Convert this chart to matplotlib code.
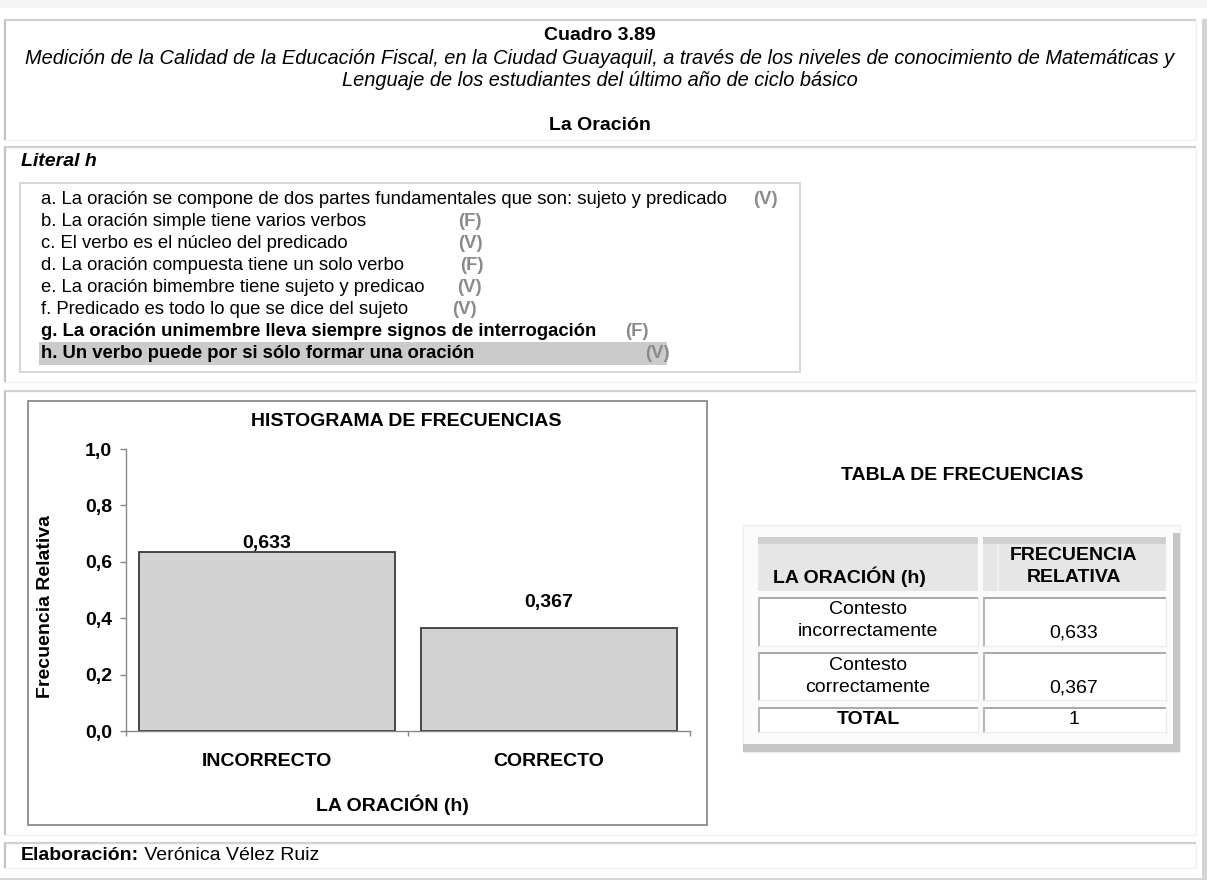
import matplotlib
matplotlib.use("Agg")
import matplotlib.pyplot as plt
from matplotlib.patches import Rectangle

plt.rcParams['font.family'] = ['Liberation Sans', 'DejaVu Sans']

# ---------------- data ----------------
cuadro = "Cuadro 3.89"
subtitle_lines = [
    "Medición de la Calidad de la Educación Fiscal, en la Ciudad Guayaquil, a través de los niveles de conocimiento de Matemáticas y",
    "Lenguaje de los estudiantes del último año de ciclo básico",
]
section = "La Oración"
literal = "Literal h"
statements = [
    "a. La oración se compone de dos partes fundamentales que son: sujeto y predicado",
    "b. La oración simple tiene varios verbos",
    "c. El verbo es el núcleo del predicado",
    "d. La oración compuesta tiene un solo verbo",
    "e. La oración bimembre tiene sujeto y predicao",
    "f. Predicado es todo lo que se dice del sujeto",
    "g. La oración unimembre lleva siempre signos de interrogación",
    "h. Un verbo puede por si sólo formar una oración",
]
answers = ["(V)", "(F)", "(V)", "(F)", "(V)", "(V)", "(F)", "(V)"]
bold_items = [False, False, False, False, False, False, True, True]

chart_title = "HISTOGRAMA DE FRECUENCIAS"
categories = ["INCORRECTO", "CORRECTO"]
freq = [0.633, 0.367]
y_ticks = [0.0, 0.2, 0.4, 0.6, 0.8, 1.0]
y_label = "Frecuencia Relativa"
x_label = "LA ORACIÓN (h)"

table_title = "TABLA DE FRECUENCIAS"
table_header = ["LA ORACIÓN (h)", ["FRECUENCIA", "RELATIVA"]]
table_rows = [["Contesto", "incorrectamente"], ["Contesto", "correctamente"]]
table_values = ["0,633", "0,367"]
table_total_label = "TOTAL"
table_total = "1"

author_label = "Elaboración:"
author = " Verónica Vélez Ruiz"

# ---------------- layout ----------------
W, H = 1207, 880
fig = plt.figure(figsize=(W / 100, H / 100), dpi=100)
ov = fig.add_axes([0, 0, 1, 1])
ov.set_xlim(0, W)
ov.set_ylim(H, 0)
ov.axis('off')

FS = 14
FS_SUB = 14.4
FS_LIST = 13.3


def rect(x0, y0, x1, y1, **kw):
    ov.add_patch(Rectangle((x0, y0), x1 - x0, y1 - y0, **kw))


def hline(y, x0, x1, color, lw=1.4):
    ov.plot([x0, x1], [y, y], color=color, lw=lw, solid_capstyle='butt')


def vline(x, y0, y1, color, lw=1.4):
    ov.plot([x, x], [y0, y1], color=color, lw=lw, solid_capstyle='butt')


# page background pieces
rect(0, 0, W, 8, facecolor='#f5f5f5', edgecolor='none')
rect(1202, 19, W, H, facecolor='#d4d4d4', edgecolor='none')
hline(879, 0, 1202, '#d4d4d4', 1.4)

# section boxes: (top, bottom)
for top, bot in [(20, 140), (147, 382), (391, 835), (843, 868)]:
    rect(4, top, 1196, bot, facecolor='white', edgecolor='#f0f0f0', lw=1)
    hline(top, 4, 1196, '#d2d2d2', 1.6)
    vline(4.5, top, bot, '#c4c4c4', 1.6)

# header texts
ov.text(600, 36, cuadro, ha='center', va='center', fontsize=FS, fontweight='bold')
ov.text(600, 59, subtitle_lines[0], ha='center', va='center', fontsize=FS_SUB, style='italic')
ov.text(600, 81, subtitle_lines[1], ha='center', va='center', fontsize=FS_SUB, style='italic')
ov.text(600, 125, section, ha='center', va='center', fontsize=FS, fontweight='bold')
ov.text(21, 161, literal, ha='left', va='center', fontsize=FS, fontweight='bold', style='italic')

# statements box
rect(20, 183, 800, 372, facecolor='white', edgecolor='#cfcfcf', lw=1.2)
line_y = [200 + 21.9 * i for i in range(len(statements))]
ans_x = [753, 458, 458, 460, 457, 452, 625, 645]
rect(39, 342, 667, 365, facecolor='#cbcbcb', edgecolor='none')
for s, a, b, y, ax_ in zip(statements, answers, bold_items, line_y, ans_x):
    ov.text(41, y, s, ha='left', va='center', fontsize=FS_LIST,
            fontweight='bold' if b else 'normal')
    ov.text(ax_, y, a, ha='left', va='center', fontsize=FS_LIST,
            fontweight='bold', color='#8a8a8a')

# chart frame
rect(28, 401, 707, 825, facecolor='white', edgecolor='#808080', lw=1.2)

ax = fig.add_axes([126 / W, (H - 731) / H, (690 - 126) / W, (731 - 449) / H])
ax.patch.set_alpha(0)
xpos = list(range(len(categories)))
ax.bar(xpos, freq, width=0.908, color='#d3d3d3', edgecolor='#3a3a3a', lw=1.3, zorder=2)
ax.set_xlim(-0.5, 1.5)
ax.set_ylim(0, 1)
for sp in ['top', 'right']:
    ax.spines[sp].set_visible(False)
for sp in ['left', 'bottom']:
    ax.spines[sp].set_color('#868686')
    ax.spines[sp].set_linewidth(1.0)
ax.set_yticks(y_ticks, labels=[f"{v:.1f}".replace('.', ',') for v in y_ticks],
              fontweight='bold', fontsize=FS)
ax.tick_params(axis='y', direction='out', length=4.3, width=1, color='#868686', pad=5.8)
ax.set_xticks(xpos, labels=categories, fontweight='bold', fontsize=FS)
ax.tick_params(axis='x', which='major', length=0, pad=16)
ax.set_xticks([-0.5, 0.5, 1.5], minor=True)
ax.tick_params(axis='x', which='minor', direction='out', length=3.6, width=1, color='#868686')

label_offsets = [6.8, 18]
for i, (v, off) in enumerate(zip(freq, label_offsets)):
    ax.annotate(f"{v:.3f}".replace('.', ','), xy=(i, v), xytext=(0, off),
                textcoords='offset points', ha='center', va='center',
                fontsize=FS, fontweight='bold')

ax.text((406 - 126) / 564, (731 - 421) / 282, chart_title, transform=ax.transAxes,
        ha='center', va='center', fontsize=FS, fontweight='bold')
ax.set_xlabel(x_label, fontsize=FS, fontweight='bold', va='center')
ax.xaxis.set_label_coords((392 - 126) / 564, -(805 - 731) / 282)
ax.set_ylabel(y_label, fontsize=FS, fontweight='bold', va='center', ha='center')
ax.yaxis.set_label_coords((46 - 126) / 564, (731 - 606) / 282)

# frequency table
ov.text(962, 475, table_title, ha='center', va='center', fontsize=FS, fontweight='bold')
rect(743, 525, 1180, 752, facecolor='#fbfbfb', edgecolor='#eeeeee', lw=1)
rect(1173, 533, 1180, 752, facecolor='#c6c6c6', edgecolor='none')
rect(743, 744, 1180, 752, facecolor='#c6c6c6', edgecolor='none')

cols = [(758, 978), (983, 1166)]
# header
for x0, x1 in cols:
    rect(x0, 537, x1, 591, facecolor='#e6e6e6', edgecolor='none')
    rect(x0, 537, x1, 544, facecolor='#d0d0d0', edgecolor='none')
vline(998, 544, 591, '#f2f2f2', 1.2)
ov.text(773, 577, table_header[0], ha='left', va='center', fontsize=FS, fontweight='bold')
ov.text(1074, 555, table_header[1][0], ha='center', va='center', fontsize=FS, fontweight='bold')
ov.text(1074, 577, table_header[1][1], ha='center', va='center', fontsize=FS, fontweight='bold')

row_spans = [(597, 647), (652, 701), (707, 733)]
for (y0, y1) in row_spans:
    for x0, x1 in cols:
        rect(x0, y0, x1, y1, facecolor='white', edgecolor='none')
        hline(y0 + 0.8, x0, x1, '#a8a8a8', 1.4)
        vline(x0 + 0.8, y0, y1, '#b4b4b4', 1.4)
        hline(y1 - 0.5, x0, x1, '#ececec', 1)
        vline(x1 - 0.5, y0, y1, '#ececec', 1)

for (y0, y1), lines, val in zip(row_spans[:2], table_rows, table_values):
    ov.text(868, y0 + 13, lines[0], ha='center', va='center', fontsize=FS)
    ov.text(868, y0 + 35, lines[1], ha='center', va='center', fontsize=FS)
    ov.text(1074, y0 + 36, val, ha='center', va='center', fontsize=FS)
ov.text(868, 719, table_total_label, ha='center', va='center', fontsize=FS, fontweight='bold')
ov.text(1074, 720, table_total, ha='center', va='center', fontsize=FS)

# author
t1 = ov.text(21, 856, author_label, ha='left', va='center', fontsize=FS, fontweight='bold')
ov.annotate(author, xy=(1, 0.5), xycoords=t1, ha='left', va='center', fontsize=FS)

fig.savefig("out.png", dpi=100)
